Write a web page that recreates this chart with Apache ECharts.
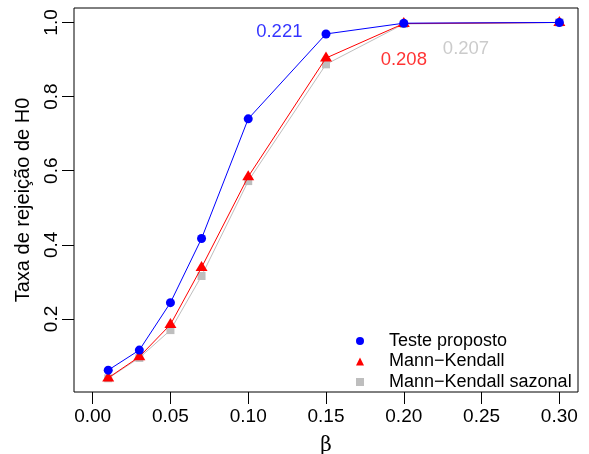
<!DOCTYPE html>
<html>
<head>
<meta charset="utf-8">
<script src="https://cdn.jsdelivr.net/npm/echarts@6/dist/echarts.min.js"></script>
<style>
html,body{margin:0;padding:0;background:#fff;}
#chart{width:589px;height:454px;}
</style>
</head>
<body>
<div id="chart"></div>
<script>
// ---- data ----
var beta = [0.01, 0.03, 0.05, 0.07, 0.10, 0.15, 0.20, 0.30];
var testeProposto = [0.062, 0.116, 0.244, 0.417, 0.740, 0.969, 0.998, 1.000];
var mannKendall = [0.041, 0.098, 0.185, 0.339, 0.584, 0.904, 0.997, 1.000];
var mannKendallSazonal = [0.040, 0.095, 0.170, 0.316, 0.572, 0.887, 0.996, 1.000];
var seriesNames = ['Teste proposto', 'Mann\u2212Kendall', 'Mann\u2212Kendall sazonal'];
var xTicks = [0.00, 0.05, 0.10, 0.15, 0.20, 0.25, 0.30];
var yTicks = [0.2, 0.4, 0.6, 0.8, 1.0];
var annotationText = ['0.221', '0.208', '0.207'];
var annotationX = [0.12, 0.20, 0.24];
var annotationY = [0.975, 0.898, 0.928];

// ---- chart ----
var FONT = "'Liberation Sans', Arial, Helvetica, sans-serif";
var BLUE = '#0000FF', RED = '#FF0000', GRAY = '#BEBEBE';
function pairs(xs, ys) { return xs.map(function (x, i) { return [x, ys[i]]; }); }
var annotColors = [BLUE, RED, GRAY];

var chart = echarts.init(document.getElementById('chart'), null, {renderer: 'canvas'});
chart.setOption({
  animation: false,
  backgroundColor: '#fff',
  textStyle: {fontFamily: FONT},
  grid: {left: 74, right: 11, top: 8, bottom: 62, containLabel: false, outerBoundsMode: 'none',
    show: true, borderColor: '#000', borderWidth: 1, backgroundColor: 'transparent'},
  xAxis: {
    type: 'value', min: -0.012, max: 0.312,
    splitLine: {show: false},
    axisLine: {show: false, onZero: false},
    axisTick: {show: true, customValues: xTicks, length: 12, lineStyle: {color: '#000', width: 1}},
    axisLabel: {customValues: xTicks, margin: 15, color: '#000', fontSize: 19, fontFamily: FONT,
      formatter: function (v) { return v.toFixed(2); }},
    name: '\u03B2', nameLocation: 'middle', nameGap: 44,
    nameTextStyle: {color: '#000', fontSize: 20, fontFamily: "'DejaVu Serif', 'Liberation Serif', serif"}
  },
  yAxis: {
    type: 'value', min: 0.003, max: 1.039,
    splitLine: {show: false},
    axisLine: {show: false, onZero: false},
    axisTick: {show: true, customValues: yTicks, length: 12, lineStyle: {color: '#000', width: 1}},
    axisLabel: {customValues: yTicks, margin: 13, rotate: 90, color: '#000', fontSize: 19, fontFamily: FONT,
      formatter: function (v) { return v.toFixed(1); }},
    name: 'Taxa de rejeição de H0', nameLocation: 'middle', nameGap: 41,
    nameTextStyle: {color: '#000', fontSize: 20, fontFamily: FONT}
  },
  legend: {
    orient: 'vertical', left: 356, top: 332, padding: 0,
    itemWidth: 8, itemHeight: 8, itemGap: 2.5,
    textStyle: {color: '#000', fontSize: 18, fontFamily: FONT, padding: [0, 0, 0, 20]},
    data: [
      {name: seriesNames[0], icon: 'circle'},
      {name: seriesNames[1], icon: 'triangle'},
      {name: seriesNames[2], icon: 'rect'}
    ]
  },
  series: [
    {
      name: seriesNames[2], type: 'line', z: 2, data: pairs(beta, mannKendallSazonal),
      symbol: 'rect', symbolSize: 8, color: GRAY,
      lineStyle: {color: GRAY, width: 1}, itemStyle: {color: GRAY}
    },
    {
      name: seriesNames[1], type: 'line', z: 3, data: pairs(beta, mannKendall),
      symbol: 'triangle', symbolSize: [12, 10], symbolOffset: [0, -1.5], color: RED,
      lineStyle: {color: RED, width: 1}, itemStyle: {color: RED}
    },
    {
      name: seriesNames[0], type: 'line', z: 4, data: pairs(beta, testeProposto),
      symbol: 'circle', symbolSize: 9, color: BLUE,
      lineStyle: {color: BLUE, width: 1}, itemStyle: {color: BLUE}
    },
    {
      name: 'annotations', type: 'scatter', z: 5, symbolSize: 0, silent: true,
      data: annotationText.map(function (t, i) {
        return {value: [annotationX[i], annotationY[i]], name: t,
          label: {show: true, position: 'inside', formatter: t, color: annotColors[i],
            fontSize: 18.5, fontFamily: FONT}};
      })
    }
  ]
});
</script>
</body>
</html>
